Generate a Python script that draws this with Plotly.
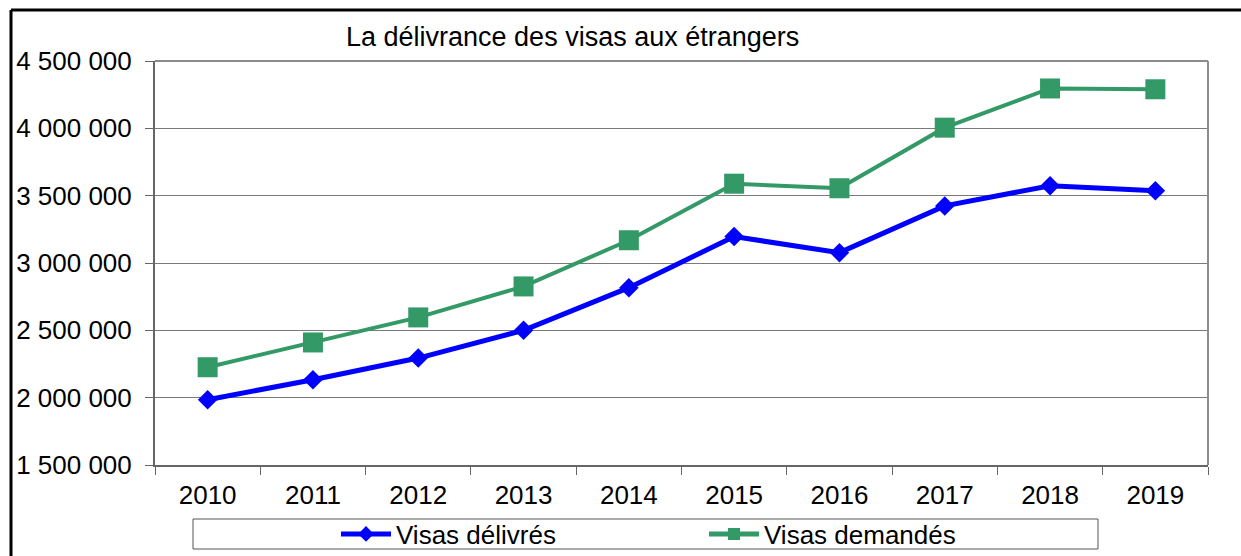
import plotly.graph_objects as go

years = ["2010", "2011", "2012", "2013", "2014", "2015", "2016", "2017", "2018", "2019"]
visas_delivres = [1985000, 2133000, 2294000, 2500000, 2817000, 3196000, 3077000, 3424000, 3574000, 3537000]
visas_demandes = [2226000, 2410000, 2596000, 2826000, 3169000, 3589000, 3555000, 4005000, 4296000, 4290000]
y_ticks = [1500000, 2000000, 2500000, 3000000, 3500000, 4000000, 4500000]
title_text = "La délivrance des visas aux étrangers"

W, H = 1241, 556
L, R, T, B = 155, 33, 61, 91
pw, ph = W - L - R, H - T - B

def px(x):
    return (x - L) / pw

def py(y):
    return (H - B - y) / ph

FONT = "Liberation Sans, Arial, sans-serif"

fig = go.Figure()
fig.add_trace(go.Scatter(
    x=years, y=visas_delivres, name="Visas délivrés", mode="lines+markers",
    line=dict(color="#0000FF", width=5),
    marker=dict(symbol="diamond", size=15, color="#0000FF"),
))
fig.add_trace(go.Scatter(
    x=years, y=visas_demandes, name="Visas demandés", mode="lines+markers",
    line=dict(color="#339966", width=4),
    marker=dict(symbol="square", size=20, color="#339966"),
))

shapes = [
    # legend box
    dict(type="rect", xref="paper", yref="paper",
         x0=px(193), x1=px(1098), y0=py(549), y1=py(519),
         line=dict(color="#555555", width=1), fillcolor="rgba(0,0,0,0)", layer="below"),
    # outer frame (left and top)
    dict(type="line", xref="paper", yref="paper",
         x0=px(11), x1=px(11), y0=py(560), y1=py(10),
         line=dict(color="black", width=3)),
    dict(type="line", xref="paper", yref="paper",
         x0=px(11), x1=px(1250), y0=py(10), y1=py(10),
         line=dict(color="black", width=3)),
]

fig.update_layout(
    width=W, height=H,
    margin=dict(l=L, r=R, t=T, b=B, pad=0, autoexpand=False),
    paper_bgcolor="white", plot_bgcolor="white",
    separators=", ",
    font=dict(family=FONT, color="black", size=26),
    showlegend=True,
    legend=dict(
        orientation="h", xref="container", yref="container",
        x=336 / W, xanchor="left", y=(H - 534) / H, yanchor="middle",
        font=dict(size=26, family=FONT, color="black"),
        bgcolor="rgba(0,0,0,0)", borderwidth=0,
        entrywidth=303, entrywidthmode="pixels",
        itemwidth=50,
        itemsizing="constant",
    ),
    shapes=shapes,
    annotations=[dict(
        text=title_text, xref="paper", yref="paper",
        x=px(572), y=py(37), xanchor="center", yanchor="middle",
        showarrow=False, font=dict(size=27, family=FONT, color="black"),
    )],
    xaxis=dict(
        type="category", range=[-0.5, 9.5], tickson="boundaries",
        ticks="outside", ticklen=8, tickcolor="#666666", tickwidth=1,
        showline=True, linecolor="#666666", linewidth=2, mirror=False,
        showgrid=False, zeroline=False, ticklabelstandoff=6,
        tickfont=dict(size=26, family=FONT, color="black"),
        fixedrange=True,
    ),
    yaxis=dict(
        range=[1500000, 4500000], tickvals=y_ticks, tickformat=",d",
        ticks="outside", ticklen=8, tickcolor="#666666", tickwidth=1,
        showline=True, linecolor="#666666", linewidth=2, mirror=False,
        showgrid=True, gridcolor="#7a7a7a", gridwidth=1, zeroline=False,
        ticklabelstandoff=8,
        tickfont=dict(size=26, family=FONT, color="black"),
        fixedrange=True,
    ),
)

# right and top border of plot area (lighter gray)
fig.add_shape(type="line", xref="paper", yref="paper", x0=1, x1=1, y0=0, y1=1,
              line=dict(color="#8c8c8c", width=2))
fig.add_shape(type="line", xref="paper", yref="paper", x0=0, x1=1, y0=1, y1=1,
              line=dict(color="#8c8c8c", width=2))

fig.write_html(
    "out.html",
    config={"displayModeBar": False},
    post_script="document.body.style.margin='0';document.body.style.overflow='hidden';",
)
